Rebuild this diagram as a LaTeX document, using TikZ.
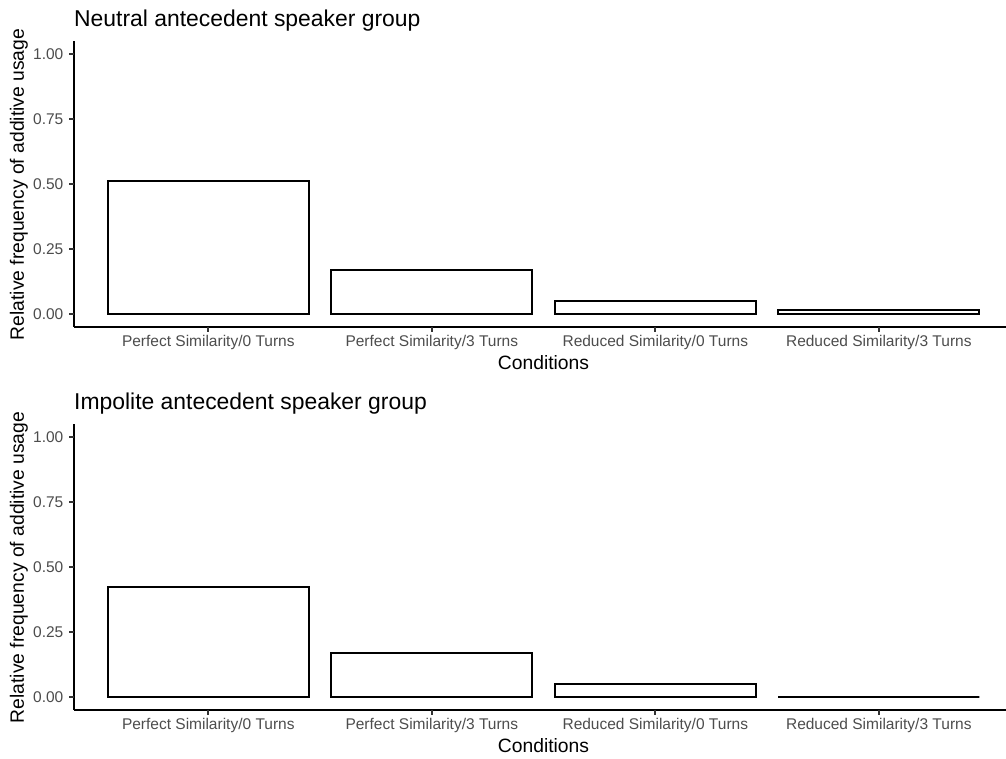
\documentclass[tikz,border=0pt]{standalone}
\usepackage{fontspec}
\setmainfont{Liberation Sans}
\definecolor{ticklab}{HTML}{4D4D4D}
\definecolor{tickcol}{HTML}{333333}
\tikzset{
  axisline/.style={line width=1.9pt, black},
  tickmark/.style={line width=1.9pt, tickcol},
  barbox/.style={line width=1.9pt, draw=black, fill=white, line join=miter},
  ytick/.style={anchor=east, inner sep=0pt, text=ticklab, font=\fontsize{15.5}{18}\selectfont},
  xtick/.style={anchor=base, inner sep=0pt, text=ticklab, font=\fontsize{15.5}{18}\selectfont},
  axtitle/.style={inner sep=0pt, font=\fontsize{19.3}{22}\selectfont},
  ptitle/.style={anchor=base west, inner sep=0pt, font=\fontsize{22.9}{26}\selectfont},
}
\newcommand{\drawpanel}[6]{%
  % #1 name prefix, #2 title, #3-#6 bar values
  \node[ptitle] (#1title) at (74,26.7) {#2};
  \coordinate (#1ytop) at (74,41);
  \coordinate (#1corner) at (74,326.7);
  \coordinate (#1xend) at (1006,326.7);
  \draw[axisline] (#1ytop) -- (#1corner);
  \draw[axisline] (#1corner) -- (#1xend);
  \foreach \v/\lab [count=\i] in {0/0.00,0.25/0.25,0.5/0.50,0.75/0.75,1/1.00}{
    \coordinate (#1yt\i) at (74,313.7-\v*259.7);
    \coordinate (#1ys\i) at (69,313.7-\v*259.7);
    \draw[tickmark] (#1ys\i) -- (#1yt\i);
    \node[ytick] (#1yl\i) at (63.5,313.7-\v*259.7) {\lab};
  }
  \foreach \c/\v/\lab [count=\i] in {208.3/#3/{Perfect Similarity/0 Turns},431.8/#4/{Perfect Similarity/3 Turns},655.3/#5/{Reduced Similarity/0 Turns},878.8/#6/{Reduced Similarity/3 Turns}}{
    \coordinate (#1xt\i) at (\c,326.7);
    \coordinate (#1xs\i) at (\c,331.7);
    \draw[tickmark] (#1xt\i) -- (#1xs\i);
    \node[xtick] (#1xl\i) at (\c,346.7) {\lab};
    \coordinate (#1bl\i) at (\c-100.6,313.7);
    \coordinate (#1tr\i) at (\c+100.6,313.7-\v*259.7);
    \draw[barbox] (#1bl\i) rectangle (#1tr\i);
  }
  \node[axtitle, anchor=base] (#1xtitle) at (543.5,369.3) {Conditions};
  \node[axtitle, rotate=90] (#1ytitle) at (19,184.5) {Relative frequency of additive usage};
}
\begin{document}
\begin{tikzpicture}[x=1pt,y=-1pt]
\useasboundingbox[fill=white] (0,0) rectangle (1006,758);
\drawpanel{a}{Neutral antecedent speaker group}{0.5116}{0.1667}{0.05}{0.0128}
\begin{scope}[shift={(0,383)}]
\drawpanel{b}{Impolite antecedent speaker group}{0.4222}{0.1667}{0.05}{0}
\end{scope}
\end{tikzpicture}
\end{document}
